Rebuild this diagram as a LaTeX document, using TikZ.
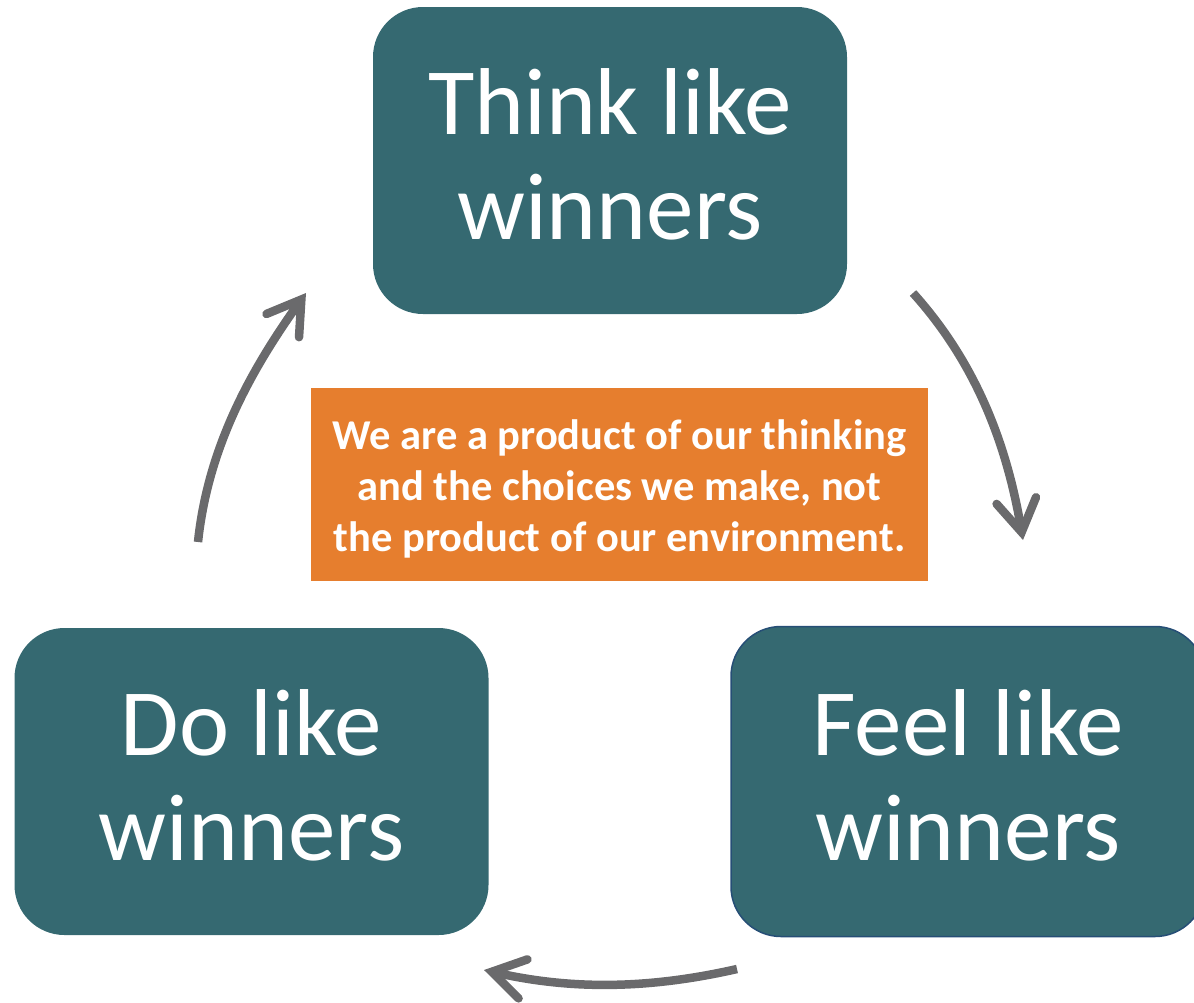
\documentclass[tikz,border=0pt]{standalone}
\usepackage{fontspec}
\setmainfont{Carlito}
\usetikzlibrary{arrows.meta}
\definecolor{winteal}{RGB}{53,105,113}
\definecolor{winedge}{RGB}{38,78,118}
\definecolor{noteorange}{RGB}{230,126,46}
\definecolor{cyclegray}{RGB}{106,106,108}

\begin{document}
\begin{tikzpicture}[x=1pt,y=-1pt,
    winbox/.style={fill=winteal,rounded corners=50pt,minimum width=474pt,minimum height=307pt,
        inner sep=0pt,text=white,align=center,font=\fontsize{95}{105}\selectfont,text height=158pt},
    notebox/.style={fill=noteorange,minimum width=617pt,minimum height=193pt,inner sep=0pt,
        text=white,align=center,font=\fontsize{42.5}{51}\selectfont\bfseries,text height=140pt},
    cycle/.style={draw=cyclegray,line width=8.5pt,
        -{Straight Barb[length=32pt,width=40pt,line cap=round]}}]
                \useasboundingbox (0,0) rectangle (1194,1002);
                \node [winbox] (think) at (610,160.5) {Think like\\winners};
                \node [winbox] (do) at (251.5,781.5) {Do like\\winners};
                \node [winbox,draw=winedge,line width=1.5pt,minimum height=310pt] (feel) at (968,781.5) {Feel like\\winners};
                \node [notebox] (note) at (619.5,484.5) {We are a product of our thinking\\and the choices we make, not\\the product of our environment.};
                \coordinate (thinkout) at (913,293);
                \coordinate (feelin) at (1023,540);
                \coordinate (feelout) at (737,969);
                \coordinate (doin) at (484,970);
                \coordinate (doout) at (198,542);
                \coordinate (thinkin) at (306,293);
                \draw [cycle] (thinkout) .. controls +(64,71) and +(-16,-94) .. (feelin);
                \draw [cycle] (feelout) .. controls +(-88,20) and +(88,20) .. (doin);
                \draw [cycle] (doout) .. controls +(10,-95) and +(-55,77) .. (thinkin);
            \end{tikzpicture}
\end{document}
